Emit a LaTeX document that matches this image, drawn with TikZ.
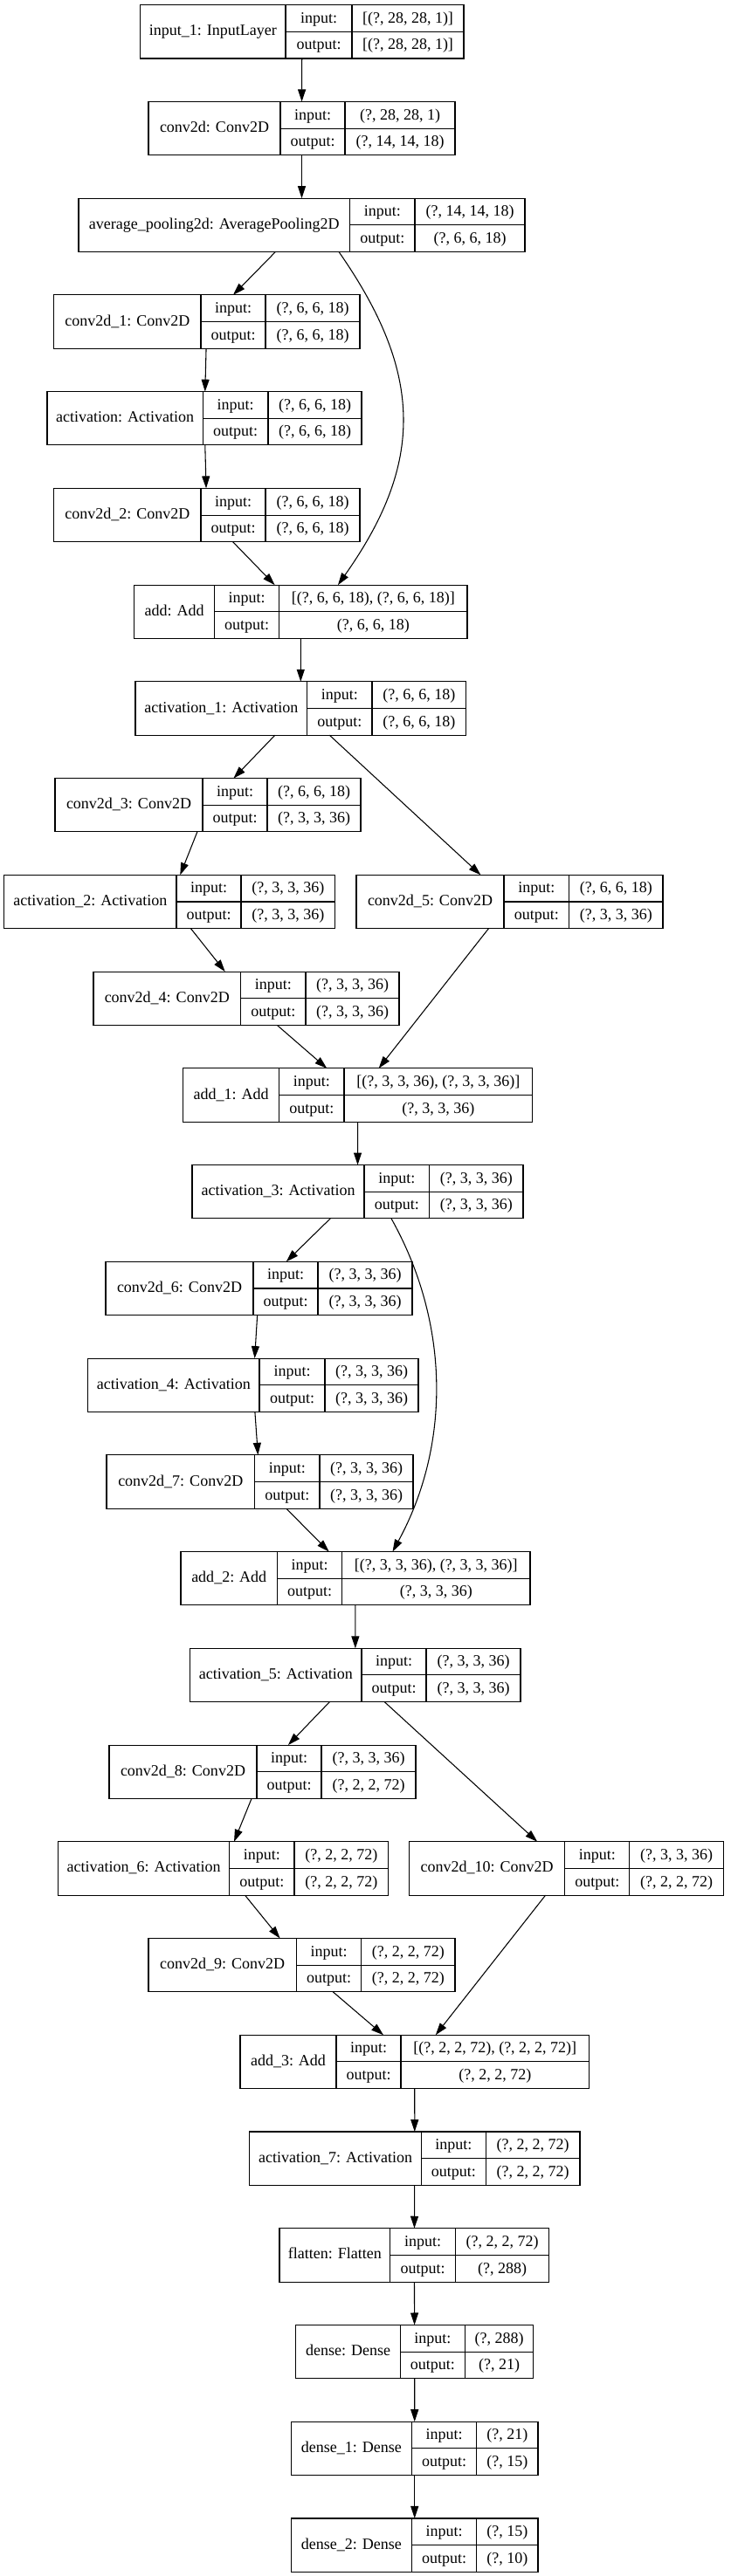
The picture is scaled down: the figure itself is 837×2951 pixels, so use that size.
\documentclass[tikz,border=0pt]{standalone}
\usepackage{fontspec}
\setmainfont{Liberation Serif}
\usepackage{tikz}
\usetikzlibrary{arrows.meta,calc}

% one keras layer: id, left, split1, split2, right, row, name, input, output
\newcommand{\layer}[9]{%
  \pgfmathsetmacro{\ltop}{5.7+110.74*#6}%
  \pgfmathsetmacro{\lmid}{\ltop+30.65}%
  \node[rec, minimum width={(#5-#2)*0.75pt}, anchor=north west] (#1) at (#2,\ltop) {};
  \draw[cell] (#3,\ltop) -- ++(0,61.3) (#4,\ltop) -- ++(0,61.3) (#3,\lmid) -- (#5,\lmid);
  \node[txt] (#1-n) at ({(#2+#3)/2},{\ltop+35.2}) {#7};
  \node[txt] (#1-il) at ({(#3+#4)/2},{\ltop+20.6}) {input:};
  \node[txt] (#1-ol) at ({(#3+#4)/2},{\lmid+20.6}) {output:};
  \node[txt] (#1-iv) at ({(#4+#5)/2},{\ltop+20.6}) {#8};
  \node[txt] (#1-ov) at ({(#4+#5)/2},{\lmid+20.6}) {#9};
}

\begin{document}
\begin{tikzpicture}[x=0.75pt, y=-0.75pt, >={Triangle[length=10.5pt,width=6.75pt]},
    font=\fontsize{13.5}{16}\selectfont,
    rec/.style={draw, line width=0.8pt, inner sep=0pt, outer sep=0pt, minimum height={61.3*0.75pt}},
    cell/.style={line width=0.8pt},
    txt/.style={anchor=base, inner sep=0pt},
    arr/.style={->, line width=0.8pt}]
\useasboundingbox (0,0) rectangle (837,2951);

\layer{in1}{160.6}{327}{403}{531}{0}{input\_1: InputLayer}{[(?, 28, 28, 1)]}{[(?, 28, 28, 1)]}
\layer{c0}{170}{321}{395}{521}{1}{conv2d: Conv2D}{(?, 28, 28, 1)}{(?, 14, 14, 18)}
\layer{pool}{90}{400.5}{475}{601}{2}{average\_pooling2d: AveragePooling2D}{(?, 14, 14, 18)}{(?, 6, 6, 18)}
\layer{c1}{61.7}{230}{304}{412}{3}{conv2d\_1: Conv2D}{(?, 6, 6, 18)}{(?, 6, 6, 18)}
\layer{act0}{54}{232.4}{307}{414}{4}{activation: Activation}{(?, 6, 6, 18)}{(?, 6, 6, 18)}
\layer{c2}{61.7}{230}{304}{412}{5}{conv2d\_2: Conv2D}{(?, 6, 6, 18)}{(?, 6, 6, 18)}
\layer{add0}{153.7}{245.7}{319.7}{535}{6}{add: Add}{[(?, 6, 6, 18), (?, 6, 6, 18)]}{(?, 6, 6, 18)}
\layer{act1}{155}{351.6}{426}{533.5}{7}{activation\_1: Activation}{(?, 6, 6, 18)}{(?, 6, 6, 18)}
\layer{c3}{63}{232}{306}{413}{8}{conv2d\_3: Conv2D}{(?, 6, 6, 18)}{(?, 3, 3, 36)}
\layer{act2}{4.8}{202}{276}{383.5}{9}{activation\_2: Activation}{(?, 3, 3, 36)}{(?, 3, 3, 36)}
\layer{c5}{408}{577}{651.6}{759}{9}{conv2d\_5: Conv2D}{(?, 6, 6, 18)}{(?, 3, 3, 36)}
\layer{c4}{107}{275.5}{350}{457}{10}{conv2d\_4: Conv2D}{(?, 3, 3, 36)}{(?, 3, 3, 36)}
\layer{add1}{209.6}{319.7}{394}{609.6}{11}{add\_1: Add}{[(?, 3, 3, 36), (?, 3, 3, 36)]}{(?, 3, 3, 36)}
\layer{act3}{220}{417}{491.5}{599}{12}{activation\_3: Activation}{(?, 3, 3, 36)}{(?, 3, 3, 36)}
\layer{c6}{121}{290}{364}{472}{13}{conv2d\_6: Conv2D}{(?, 3, 3, 36)}{(?, 3, 3, 36)}
\layer{act4}{100.5}{297}{372}{479}{14}{activation\_4: Activation}{(?, 3, 3, 36)}{(?, 3, 3, 36)}
\layer{c7}{122}{291.5}{366}{473}{15}{conv2d\_7: Conv2D}{(?, 3, 3, 36)}{(?, 3, 3, 36)}
\layer{add2}{207}{317.5}{391.5}{607}{16}{add\_2: Add}{[(?, 3, 3, 36), (?, 3, 3, 36)]}{(?, 3, 3, 36)}
\layer{act5}{217.6}{414}{488}{596}{17}{activation\_5: Activation}{(?, 3, 3, 36)}{(?, 3, 3, 36)}
\layer{c8}{125}{294}{368}{476}{18}{conv2d\_8: Conv2D}{(?, 3, 3, 36)}{(?, 2, 2, 72)}
\layer{act6}{66.5}{262.8}{337}{444.7}{19}{activation\_6: Activation}{(?, 2, 2, 72)}{(?, 2, 2, 72)}
\layer{c10}{468.6}{646.8}{720.7}{828.7}{19}{conv2d\_10: Conv2D}{(?, 3, 3, 36)}{(?, 2, 2, 72)}
\layer{c9}{170}{339.4}{413.8}{521}{20}{conv2d\_9: Conv2D}{(?, 2, 2, 72)}{(?, 2, 2, 72)}
\layer{add3}{275}{385}{459}{674.5}{21}{add\_3: Add}{[(?, 2, 2, 72), (?, 2, 2, 72)]}{(?, 2, 2, 72)}
\layer{act7}{285.6}{482.4}{556.4}{664}{22}{activation\_7: Activation}{(?, 2, 2, 72)}{(?, 2, 2, 72)}
\layer{flat}{320}{446.8}{521.3}{628.7}{23}{flatten: Flatten}{(?, 2, 2, 72)}{(?, 288)}
\layer{d0}{338.8}{458.5}{532.4}{610.6}{24}{dense: Dense}{(?, 288)}{(?, 21)}
\layer{d1}{333.5}{471.3}{545.7}{616}{25}{dense\_1: Dense}{(?, 21)}{(?, 15)}
\layer{d2}{333.5}{471.3}{545.7}{616}{26}{dense\_2: Dense}{(?, 15)}{(?, 10)}

\path[arr]
  (in1) edge (c0)
  (c0) edge (pool)
  (pool) edge (c1)
  (c1) edge (act0)
  (act0) edge (c2)
  (c2) edge (add0)
  (add0) edge (act1)
  (act1) edge (c3)
  (act1) edge (c5)
  (c3) edge (act2)
  (act2) edge (c4)
  (c4) edge (add1)
  (c5) edge (add1)
  (add1) edge (act3)
  (act3) edge (c6)
  (c6) edge (act4)
  (act4) edge (c7)
  (c7) edge (add2)
  (add2) edge (act5)
  (act5) edge (c8)
  (act5) edge (c10)
  (c8) edge (act6)
  (act6) edge (c9)
  (c9) edge (add3)
  (c10) edge (add3)
  (add3) edge (act7)
  (act7) edge (flat)
  (flat) edge (d0)
  (d0) edge (d1)
  (d1) edge (d2);

% skip connections
\draw[arr] ($(pool.south)+(42.5,0)$) .. controls +(97.5,140) and +(98.5,-139.6) .. ($(add0.north)+(42.6,0)$);
\draw[arr] ($(act3.south)+(38.5,0)$) .. controls +(67.75,121) and +(66.25,-121.4) .. ($(add2.north)+(42.5,0)$);

\end{tikzpicture}
\end{document}
